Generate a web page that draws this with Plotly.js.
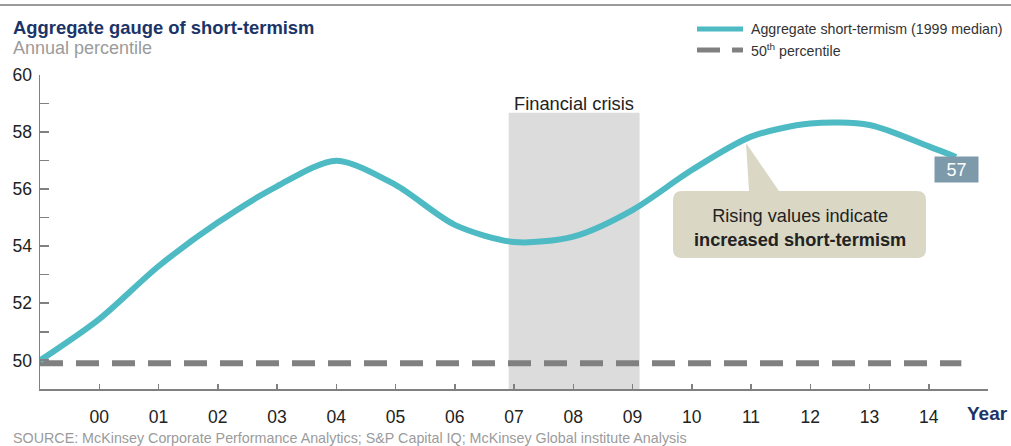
<!DOCTYPE html>
<html>
<head>
<meta charset="utf-8">
<script src="https://cdn.plot.ly/plotly-3.0.1.min.js"></script>
<style>
  html, body { margin: 0; padding: 0; background: #fff; }
  #chart { width: 1011px; height: 446px; }
</style>
</head>
<body>
<div id="chart"></div>
<script>
// ---- data ----
const years = [1999, 2000, 2001, 2002, 2003, 2004, 2005, 2006, 2007, 2008, 2009, 2010, 2011, 2012, 2013, 2014, 2014.46];
const shortTermism = [50.0, 51.45, 53.3, 54.83, 56.1, 57.0, 56.15, 54.75, 54.15, 54.34, 55.27, 56.67, 57.84, 58.3, 58.25, 57.5, 57.13];
const medianYears = [1999, 2014.55];
const medianLevel = [49.9, 49.9];
const tickYears = [2000, 2001, 2002, 2003, 2004, 2005, 2006, 2007, 2008, 2009, 2010, 2011, 2012, 2013, 2014];
const tickLabels = ['00', '01', '02', '03', '04', '05', '06', '07', '08', '09', '10', '11', '12', '13', '14'];
const endTick = [2015];
const yMajor = [50, 52, 54, 56, 58, 60];
const yMinor = [51, 53, 55, 57, 59];
const crisisStart = 2006.91, crisisEnd = 2009.12, crisisTop = 58.68;
const lastLabel = '57';

const TEAL = '#4DBAC4';
const GREY = '#808080';
const NAVY = '#1B3468';
const FONT = 'Liberation Sans, Arial, Helvetica, sans-serif';

// plot area in pixels: x 40..988, y 75..389
const L = 40, R = 988, T = 75, B = 389;
const px = x => (x - L) / (R - L);
const py = y => (B - y) / (B - T);

function calloutPath() {
  const x0 = 673, x1 = 926, y0 = 191, y1 = 258, r = 9;
  const P = (x, y) => px(x).toFixed(5) + ',' + py(y).toFixed(5);
  let d = 'M' + P(x0 + r, y0);
  d += ' L' + P(749, y0) + ' L' + P(746, 143) + ' L' + P(779, y0);
  d += ' L' + P(x1 - r, y0) + ' Q' + P(x1, y0) + ' ' + P(x1, y0 + r);
  d += ' L' + P(x1, y1 - r) + ' Q' + P(x1, y1) + ' ' + P(x1 - r, y1);
  d += ' L' + P(x0 + r, y1) + ' Q' + P(x0, y1) + ' ' + P(x0, y1 - r);
  d += ' L' + P(x0, y0 + r) + ' Q' + P(x0, y0) + ' ' + P(x0 + r, y0) + ' Z';
  return d;
}

const traces = [
  {
    x: medianYears, y: medianLevel, type: 'scatter', mode: 'lines',
    line: { color: GREY, width: 6, dash: '23px,13px' },
    hoverinfo: 'skip', showlegend: false
  },
  {
    x: years, y: shortTermism, type: 'scatter', mode: 'lines',
    line: { color: TEAL, width: 6, shape: 'spline', smoothing: 0.8 },
    showlegend: false
  }
];

const layout = {
  width: 1011, height: 446,
  margin: { l: L, r: 1011 - R, t: T, b: 446 - B, pad: 0 },
  paper_bgcolor: '#fff', plot_bgcolor: '#fff',
  font: { family: FONT, color: '#222', size: 16 },
  showlegend: false,
  xaxis: {
    range: [1999, 2015], showgrid: false, zeroline: false,
    showline: true, linecolor: GREY, linewidth: 1.5,
    tickmode: 'array', tickvals: tickYears, ticktext: tickLabels,
    ticks: 'inside', ticklen: 5, tickwidth: 1.5, tickcolor: GREY,
    minor: { tickmode: 'array', tickvals: endTick, ticks: 'inside', ticklen: 5, tickwidth: 1.5, tickcolor: GREY },
    ticklabelstandoff: 11,
    tickfont: { size: 17.5, color: '#222', family: FONT }
  },
  yaxis: {
    range: [49, 60], showgrid: false, zeroline: false,
    showline: true, linecolor: GREY, linewidth: 1.5,
    tickmode: 'array', tickvals: yMajor,
    ticks: 'inside', ticklen: 9, tickwidth: 2, tickcolor: GREY,
    minor: { tickmode: 'array', tickvals: yMinor, ticks: 'inside', ticklen: 9, tickwidth: 1.2, tickcolor: GREY },
    ticklabelstandoff: 3,
    tickfont: { size: 17.5, color: '#222', family: FONT }
  },
  shapes: [
    { type: 'line', xref: 'paper', yref: 'paper', x0: px(0), x1: px(1011), y0: py(5), y1: py(5),
      line: { color: '#9A9A9A', width: 2 } },
    { type: 'rect', xref: 'x', yref: 'y', x0: crisisStart, x1: crisisEnd, y0: 49, y1: crisisTop,
      fillcolor: '#DCDCDC', line: { width: 0 }, layer: 'below' },
    { type: 'path', xref: 'paper', yref: 'paper', path: calloutPath(),
      fillcolor: '#DAD8C5', line: { width: 0 }, layer: 'above' },
    { type: 'line', xref: 'paper', yref: 'paper', x0: px(697), x1: px(743), y0: py(29), y1: py(29),
      line: { color: TEAL, width: 5 } },
    { type: 'line', xref: 'paper', yref: 'paper', x0: px(697), x1: px(720), y0: py(50), y1: py(50),
      line: { color: GREY, width: 5 } },
    { type: 'line', xref: 'paper', yref: 'paper', x0: px(732), x1: px(743), y0: py(50), y1: py(50),
      line: { color: GREY, width: 5 } }
  ],
  annotations: [
    { xref: 'paper', yref: 'paper', x: px(11), y: py(27), xanchor: 'left', yanchor: 'middle', showarrow: false,
      text: '<b>Aggregate gauge of short-termism</b>', font: { size: 18.4, color: NAVY, family: FONT } },
    { xref: 'paper', yref: 'paper', x: px(11), y: py(48), xanchor: 'left', yanchor: 'middle', showarrow: false,
      text: 'Annual percentile', font: { size: 18, color: '#9B9B9B', family: FONT } },
    { xref: 'paper', yref: 'paper', x: px(749), y: py(29), xanchor: 'left', yanchor: 'middle', showarrow: false,
      text: 'Aggregate short-termism (1999 median)', font: { size: 14.2, color: '#333', family: FONT } },
    { xref: 'paper', yref: 'paper', x: px(749), y: py(50), xanchor: 'left', yanchor: 'middle', showarrow: false,
      text: '50<sup>th</sup> percentile', font: { size: 14.2, color: '#333', family: FONT } },
    { xref: 'x', yref: 'paper', x: (crisisStart + crisisEnd) / 2, y: py(103), xanchor: 'center', yanchor: 'middle', showarrow: false,
      text: 'Financial crisis', font: { size: 18.3, color: '#222', family: FONT } },
    { xref: 'paper', yref: 'paper', x: px(800), y: py(228), xanchor: 'center', yanchor: 'middle', showarrow: false,
      text: 'Rising values indicate<br><b>increased short-termism</b>', font: { size: 18.2, color: '#222', family: FONT } },
    { xref: 'x', yref: 'y', x: years[years.length - 1], y: shortTermism[shortTermism.length - 1],
      xanchor: 'center', yanchor: 'top', yshift: 1, showarrow: false, width: 39, height: 21, borderpad: 2,
      bgcolor: '#7D9AAB', text: lastLabel, font: { size: 18, color: '#fff', family: FONT } },
    { xref: 'paper', yref: 'paper', x: px(1010), y: py(413), xanchor: 'right', yanchor: 'middle', showarrow: false,
      text: '<b>Year</b>', font: { size: 19, color: NAVY, family: FONT } },
    { xref: 'paper', yref: 'paper', x: px(11), y: py(438), xanchor: 'left', yanchor: 'middle', showarrow: false,
      text: 'SOURCE: McKinsey Corporate Performance Analytics; S&amp;P Capital IQ; McKinsey Global institute Analysis',
      font: { size: 14.3, color: '#9B9B9B', family: FONT } }
  ]
};

Plotly.newPlot('chart', traces, layout, { displayModeBar: false, staticPlot: true });
</script>
</body>
</html>
